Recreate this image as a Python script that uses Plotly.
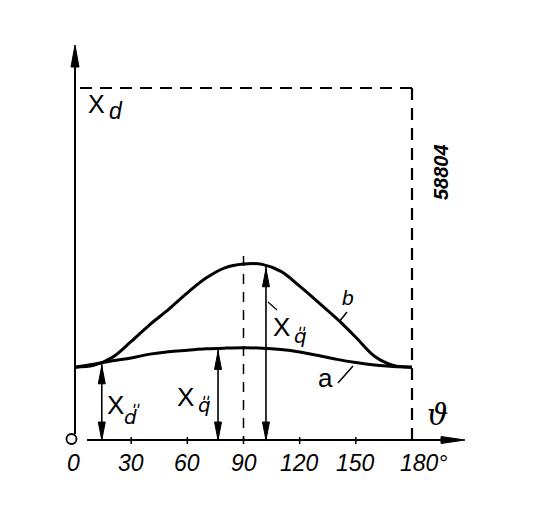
import numpy as np
import plotly.graph_objects as go

# ---------------- data ----------------
theta = [0, 10, 20, 30, 40, 50, 60, 70, 80, 90, 100, 110, 120, 130, 140, 150, 160, 170, 180]
curve_a = [0.207, 0.215, 0.225, 0.233, 0.244, 0.251, 0.255, 0.259, 0.261, 0.262,
           0.261, 0.257, 0.250, 0.240, 0.229, 0.220, 0.213, 0.209, 0.207]
curve_b = [0.207, 0.212, 0.235, 0.280, 0.328, 0.371, 0.418, 0.460, 0.489, 0.500,
           0.499, 0.479, 0.437, 0.391, 0.344, 0.292, 0.238, 0.212, 0.207]
tick_vals = [0, 30, 60, 90, 120, 150, 180]
tick_text = ["0", "30", "60", "90", "120", "150", "180°"]
xd_level = 1.0
arrow_theta_a = [14.3, 76.4]   # X''d and X''q measured to curve a
arrow_theta_b = [102.0]        # X''q measured to curve b
mid_theta = 90

# ---------------- frame ----------------
W, H = 545, 520
ML, MR, MT, MB = 20, 15, 20, 20
X0PX, PXX = 75.0, 337.0 / 180.0      # pixel of theta=0, pixels per degree
Y0PX, PXY = 440.0, 352.0             # pixel of value 0, pixels per unit
XR = [(ML - X0PX) / PXX, (W - MR - X0PX) / PXX]
YR = [(Y0PX - (H - MB)) / PXY, (Y0PX - MT) / PXY]


def px2x(px):
    return (px - X0PX) / PXX


def px2y(py):
    return (Y0PX - py) / PXY


BLACK = "#000000"
FONT = "Liberation Sans, DejaVu Sans"
shapes = []
annotations = []


def line(x0, y0, x1, y1, width=2.0, dash="solid"):
    shapes.append(dict(type="line", xref="x", yref="y", x0=x0, y0=y0, x1=x1, y1=y1,
                       line=dict(color=BLACK, width=width, dash=dash)))


def head(xt, yt, direction, length=18, half=3.5):
    if direction == "up":
        by = yt - length / PXY
        d = f"M {xt},{yt} L {xt - half / PXX},{by} L {xt + half / PXX},{by} Z"
    elif direction == "down":
        by = yt + length / PXY
        d = f"M {xt},{yt} L {xt - half / PXX},{by} L {xt + half / PXX},{by} Z"
    else:  # right
        bx = xt - length / PXX
        d = f"M {xt},{yt} L {bx},{yt - half / PXY} L {bx},{yt + half / PXY} Z"
    shapes.append(dict(type="path", xref="x", yref="y", path=d,
                       fillcolor=BLACK, line=dict(color=BLACK, width=1)))


def text(s, px, py, size, italic=False, bold=False, angle=0, family=FONT,
         xanchor="center"):
    if italic:
        s = f"<i>{s}</i>"
    if bold:
        s = f"<b>{s}</b>"
    annotations.append(dict(x=px2x(px), y=px2y(py), xref="x", yref="y", text=s,
                            showarrow=False, xanchor=xanchor, yanchor="middle",
                            textangle=angle,
                            font=dict(family=family, size=size, color=BLACK)))


# axes
y_top = px2y(45)
line(0, px2y(434), 0, y_top - 10 / PXY, width=2.0)
head(0, y_top, "up", length=22, half=4)
x_tip = px2x(465)
line(px2x(87), 0, x_tip - 10 / PXX, 0, width=2.0)
head(x_tip, 0, "right", length=24, half=3.5)
shapes.append(dict(type="circle", xref="x", yref="y",
                   x0=px2x(66.5), x1=px2x(76.5), y0=px2y(444), y1=px2y(434),
                   line=dict(color=BLACK, width=1.8)))
for t in tick_vals[1:-1]:
    line(t, px2y(444), t, px2y(437), width=1.5)

# dashed frame at X_d
line(px2x(80), xd_level, 180, xd_level, width=2.2, dash="12px,8px")
line(180, xd_level, 180, px2y(442), width=2.2, dash="12px,8px")
line(mid_theta, px2y(256), mid_theta, 0, width=1.5, dash="10px,8px")

# dimension arrows
for t in arrow_theta_a:
    top = float(np.interp(t, theta, curve_a))
    line(t, 0, t, top, width=1.6)
    head(t, top - 3 / PXY, "up", length=18, half=3.5)
    head(t, 0, "down", length=18, half=3.5)
for t in arrow_theta_b:
    top = float(np.interp(t, theta, curve_b))
    line(t, 0, t, top, width=1.6)
    head(t, top - 3 / PXY, "up", length=18, half=3.5)
    head(t, 0, "down", length=18, half=3.5)

# leader strokes
line(px2x(339), px2y(322), px2x(347), px2y(312), width=1.5)
line(px2x(338), px2y(383), px2x(353), px2y(366), width=1.5)
line(px2x(268), px2y(302), px2x(277), px2y(310), width=1.2)

# tick labels
for t, s in zip(tick_vals, tick_text):
    shift = 12 if s.endswith("°") else 0
    text(s, X0PX + t * PXX + shift - (2 if t == 0 else 0), 463, 23, italic=True)

# labels
text("X", 96, 104, 25)
text("d", 116, 111, 23, italic=True)

DQ = "\u030E"   # two short strokes above the letter
text("X", 115, 405, 26)
text("d" + DQ, 132, 416, 20, italic=True, family="DejaVu Sans")
text("X", 185, 397, 26)
text("q" + DQ, 204, 405, 20, italic=True, family="DejaVu Sans")
text("X", 281, 327, 26)
text("q" + DQ, 300, 336, 20, italic=True, family="DejaVu Sans")

text("b", 348, 297, 21, italic=True)
text("a", 325, 378, 26)
text("ϑ", 437, 414, 30, italic=True, family="DejaVu Serif")
text("58804", 441, 172, 20, italic=True, bold=True, angle=-90)

fig = go.Figure()
fig.add_trace(go.Scatter(x=theta, y=curve_b, mode="lines", name="b",
                         line=dict(color=BLACK, width=3, shape="spline", smoothing=1.0)))
fig.add_trace(go.Scatter(x=theta, y=curve_a, mode="lines", name="a",
                         line=dict(color=BLACK, width=3, shape="spline", smoothing=1.0)))

fig.update_layout(
    width=W, height=H,
    margin=dict(l=ML, r=MR, t=MT, b=MB),
    paper_bgcolor="white", plot_bgcolor="white",
    showlegend=False,
    xaxis=dict(range=XR, visible=False, fixedrange=True),
    yaxis=dict(range=YR, visible=False, fixedrange=True),
    shapes=shapes,
    annotations=annotations,
)
fig.write_html("out.html", config={"displayModeBar": False},
               post_script="document.body.style.margin='0px';")
